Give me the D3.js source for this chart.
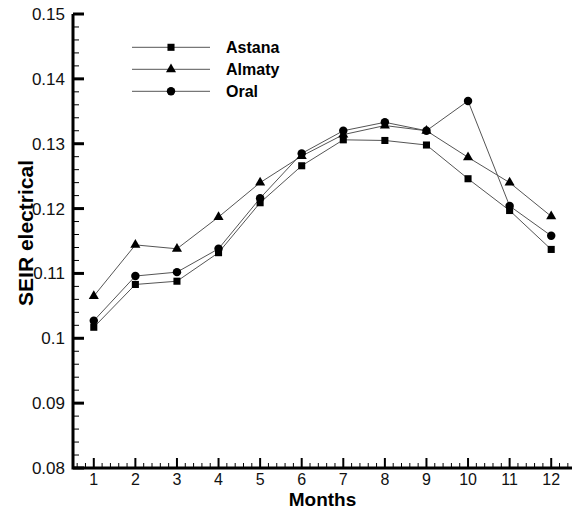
<!DOCTYPE html>
<html>
<head>
<meta charset="utf-8">
<script src="https://cdn.jsdelivr.net/npm/d3@7"></script>
<style>
  body { margin: 0; background: #fff; }
  text { font-family: 'Liberation Sans', Arial, sans-serif; }
</style>
</head>
<body>
<svg width="573" height="510"></svg>
<script>
'use strict'

// data
let months = [1, 2, 3, 4, 5, 6, 7, 8, 9, 10, 11, 12];
let astana = [0.1017, 0.1083, 0.1088, 0.1132, 0.1209, 0.1266, 0.1306, 0.1305, 0.1298, 0.1246, 0.1197, 0.1137];
let almaty = [0.1065, 0.1144, 0.1138, 0.1187, 0.1240, 0.1281, 0.1314, 0.1328, 0.1320, 0.1279, 0.1240, 0.1188];
let oral = [0.1027, 0.1096, 0.1102, 0.1138, 0.1216, 0.1285, 0.1320, 0.1333, 0.1320, 0.1366, 0.1204, 0.1158];
let yTicks = [0.08, 0.09, 0.1, 0.11, 0.12, 0.13, 0.14, 0.15];
let seriesNames = ['Astana', 'Almaty', 'Oral'];

let svg = d3.select('svg');

let x = d3.scaleLinear().domain([0.5, 12.5]).range([73, 572]);
let y = d3.scaleLinear().domain([0.08, 0.15]).range([468, 14]);

let series = [
    { name: seriesNames[0], values: astana, symbol: d3.symbolSquare, size: 50 },
    { name: seriesNames[1], values: almaty, symbol: d3.symbolTriangle, size: 44 },
    { name: seriesNames[2], values: oral, symbol: d3.symbolCircle, size: 56 }
];

// minor ticks
let xMinor = d3.range(0.6, 12.45, 0.2).filter(function(v) {
    return Math.abs(v - Math.round(v)) > 0.01;
});
let yMinor = d3.range(0.082, 0.1499, 0.002).filter(function(v) {
    return Math.abs(v * 100 - Math.round(v * 100)) > 0.01;
});

let axes = svg.append('g').attr('stroke', '#000');

axes.selectAll('.xmin').data(xMinor).enter().append('line')
    .attr('x1', function(d) { return x(d); }).attr('x2', function(d) { return x(d); })
    .attr('y1', 468).attr('y2', 463).attr('stroke-width', 1);
axes.selectAll('.xmaj').data(months).enter().append('line')
    .attr('x1', function(d) { return x(d); }).attr('x2', function(d) { return x(d); })
    .attr('y1', 468).attr('y2', 458).attr('stroke-width', 2);

axes.selectAll('.ymin').data(yMinor).enter().append('line')
    .attr('x1', 73).attr('x2', 79)
    .attr('y1', function(d) { return y(d); }).attr('y2', function(d) { return y(d); })
    .attr('stroke-width', 1);
axes.selectAll('.ymaj').data(yTicks).enter().append('line')
    .attr('x1', 73).attr('x2', 84)
    .attr('y1', function(d) { return y(d); }).attr('y2', function(d) { return y(d); })
    .attr('stroke-width', 3);

axes.append('path')
    .attr('d', 'M' + x(0.5) + ',' + y(0.15) + 'V' + y(0.08) + 'H' + x(12.5))
    .attr('fill', 'none')
    .attr('stroke-width', 3);

svg.selectAll('.xlab').data(months).enter().append('text')
    .attr('x', function(d) { return x(d); })
    .attr('y', 485)
    .attr('text-anchor', 'middle')
    .attr('font-size', 16)
    .attr('fill', '#111')
    .text(function(d) { return d; });

svg.selectAll('.ylab').data(yTicks).enter().append('text')
    .attr('x', 65)
    .attr('y', function(d) { return y(d) + 6; })
    .attr('text-anchor', 'end')
    .attr('font-size', 17)
    .attr('fill', '#111')
    .text(function(d) { return d3.format('')(+d.toFixed(2)); });

svg.append('text')
    .attr('x', x(6.5)).attr('y', 506)
    .attr('text-anchor', 'middle')
    .attr('font-size', 19).attr('font-weight', 'bold')
    .text('Months');

svg.append('text')
    .attr('transform', 'translate(33,233) rotate(-90)')
    .attr('text-anchor', 'middle')
    .attr('font-size', 21).attr('font-weight', 'bold')
    .text('SEIR electrical');

let line = d3.line()
    .x(function(d, i) { return x(months[i]); })
    .y(function(d) { return y(d); });

series.forEach(function(s) {
    svg.append('path')
        .attr('d', line(s.values))
        .attr('fill', 'none')
        .attr('stroke', '#555')
        .attr('stroke-width', 1);
});

series.forEach(function(s) {
    svg.selectAll(null).data(s.values).enter().append('path')
        .attr('d', d3.symbol().type(s.symbol).size(s.size))
        .attr('transform', function(d, i) {
            return 'translate(' + x(months[i]) + ',' + y(d) + ')';
        })
        .attr('fill', '#000');
});

// legend
let legend = svg.append('g');
series.forEach(function(s, i) {
    let ly = 47.3 + i * 22;
    legend.append('line')
        .attr('x1', 132).attr('x2', 210)
        .attr('y1', ly).attr('y2', ly)
        .attr('stroke', '#555').attr('stroke-width', 1);
    legend.append('path')
        .attr('d', d3.symbol().type(s.symbol).size(s.size))
        .attr('transform', 'translate(171,' + ly + ')')
        .attr('fill', '#000');
    legend.append('text')
        .attr('x', 226).attr('y', ly + 6)
        .attr('font-size', 16).attr('font-weight', 'bold')
        .text(s.name);
});
</script>
</body>
</html>
